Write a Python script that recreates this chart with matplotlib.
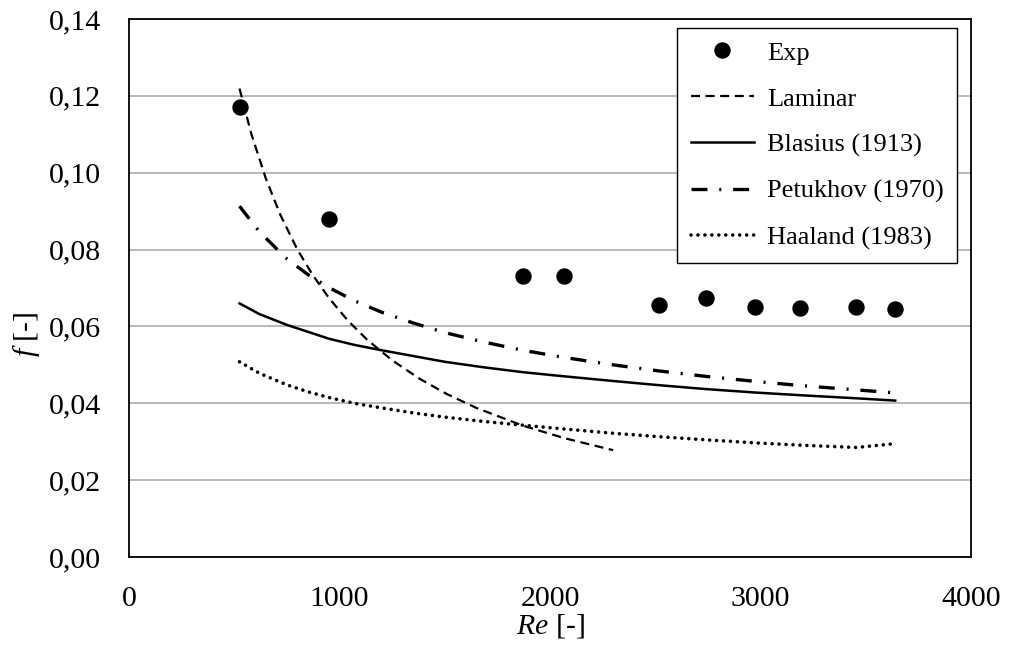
import matplotlib
matplotlib.use("Agg")
import matplotlib.pyplot as plt
from matplotlib.ticker import FuncFormatter, MultipleLocator

plt.rcParams['font.family'] = ['Liberation Serif', 'DejaVu Serif']
plt.rcParams['mathtext.fontset'] = 'custom'
plt.rcParams['mathtext.rm'] = 'Liberation Serif'
plt.rcParams['mathtext.it'] = 'Liberation Serif:italic'
plt.rcParams['lines.scale_dashes'] = False

# experimental points
re_exp = [525, 948, 1872, 2065, 2517, 2741, 2975, 3190, 3455, 3639]
f_exp = [0.1172, 0.0879, 0.0732, 0.0732, 0.0655, 0.0674, 0.0650, 0.0648, 0.0650, 0.0646]

# laminar curve
re_lam = [525, 580, 650, 720, 800, 870, 950, 1040, 1130, 1250, 1380, 1510, 1650, 1870, 2070, 2300]
f_lam = [0.1219, 0.1103, 0.0985, 0.0889, 0.0800, 0.0736, 0.0674, 0.0615, 0.0566, 0.0512,
         0.0464, 0.0424, 0.0388, 0.0342, 0.0309, 0.0278]

# turbulent correlations
re_turb = [525, 620, 750, 850, 950, 1070, 1200, 1350, 1500, 1680, 1870, 2070, 2300, 2520,
           2740, 2975, 3190, 3455, 3640]
f_blasius = [0.0660, 0.0632, 0.0604, 0.0586, 0.0568, 0.0552, 0.0538, 0.0523, 0.0508, 0.0494,
             0.0481, 0.0470, 0.0458, 0.0447, 0.0437, 0.0428, 0.0421, 0.0413, 0.0407]
f_petukhov = [0.0913, 0.0846, 0.0776, 0.0735, 0.0701, 0.0667, 0.0637, 0.0609, 0.0584, 0.0560,
              0.0538, 0.0519, 0.0500, 0.0484, 0.0470, 0.0457, 0.0446, 0.0435, 0.0427]
f_haaland = [0.0508, 0.0478, 0.0448, 0.0430, 0.0415, 0.0400, 0.0388, 0.0375, 0.0364, 0.0353,
             0.0343, 0.0333, 0.0322, 0.0313, 0.0305, 0.0297, 0.0291, 0.0285, 0.0295]

labels = ['Exp', 'Laminar', 'Blasius (1913)', 'Petukhov (1970)', 'Haaland (1983)']

fig = plt.figure(figsize=(10.1, 6.48), dpi=100)
ax = fig.add_axes([129/1010, 1 - 557/648, 842/1010, 538/648])

ax.plot(re_exp, f_exp, 'o', color='black', markersize=10.8, label=labels[0], zorder=5)
ax.plot(re_lam, f_lam, color='black', lw=1.6, linestyle=(0, (6.5, 4)),
        dash_capstyle='butt', label=labels[1])
ax.plot(re_turb, f_blasius, color='black', lw=1.8, label=labels[2])
ax.plot(re_turb, f_petukhov, color='black', lw=2.4, linestyle=(0, (11.5, 8.5, 1.5, 8.5)),
        dash_capstyle='butt', label=labels[3])
ax.plot(re_turb, f_haaland, color='black', lw=2.6, linestyle=(0, (0.01, 5.0)),
        dash_capstyle='round', label=labels[4])

ax.set_xlim(0, 4000)
ax.set_ylim(0, 0.14)
ax.xaxis.set_major_locator(MultipleLocator(1000))
ax.yaxis.set_major_locator(MultipleLocator(0.02))
ax.yaxis.set_major_formatter(FuncFormatter(lambda v, p: f"{v:.2f}".replace('.', ',')))
ax.tick_params(length=0, labelsize=21.5)
ax.tick_params(axis='y', pad=20)
ax.tick_params(axis='x', pad=21)
ax.grid(axis='y', color='#a6a6a6', lw=1.1)
ax.set_axisbelow(True)
for s in ax.spines.values():
    s.set_linewidth(1.3)
    s.set_color('black')

ax.set_xlabel(r'$Re$ [-]', fontsize=21.5, labelpad=0)
ax.set_ylabel(r'$f$ [-]', fontsize=21.5)
ax.yaxis.set_label_coords(-0.103, 0.4145)

leg = ax.legend(loc='upper right', bbox_to_anchor=(0.9834, 0.9833), borderaxespad=0,
                fontsize=19, frameon=True, fancybox=False, framealpha=1,
                edgecolor='black', handlelength=2.4, handletextpad=0.5,
                labelspacing=0.85, borderpad=0.5)
leg.get_frame().set_linewidth(1.0)

fig.savefig('out.png', dpi=100)
